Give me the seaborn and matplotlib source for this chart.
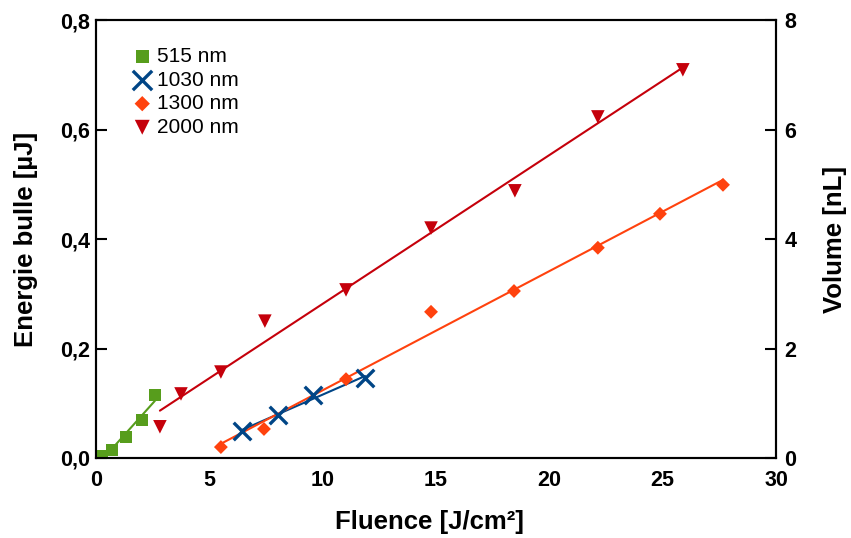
import numpy as np
import pandas as pd
import matplotlib
matplotlib.use("Agg")
import matplotlib.pyplot as plt
import seaborn as sns

# data
fluence_515 = [0.26, 0.71, 1.32, 2.03, 2.60]
energy_515 = [0.004, 0.015, 0.038, 0.069, 0.115]

fluence_1030 = [6.44, 8.03, 9.57, 11.87]
energy_1030 = [0.049, 0.079, 0.115, 0.146]

fluence_1300 = [5.51, 7.41, 11.03, 14.78, 18.44, 22.14, 24.88, 27.66]
energy_1300 = [0.020, 0.053, 0.144, 0.267, 0.305, 0.384, 0.446, 0.499]

fluence_2000 = [2.82, 3.75, 5.51, 7.45, 11.03, 14.78, 18.48, 22.14, 25.89]
energy_2000 = [0.057, 0.117, 0.157, 0.250, 0.307, 0.420, 0.488, 0.623, 0.709]

series = [
    ("515 nm", fluence_515, energy_515, "#579d1c", "s", 75),
    ("1030 nm", fluence_1030, energy_1030, "#004586", "x", 160),
    ("1300 nm", fluence_1300, energy_1300, "#ff420e", "D", 50),
    ("2000 nm", fluence_2000, energy_2000, "#c5000b", "v", 95),
]

sns.set_style("white")
plt.rcParams["font.family"] = ["Liberation Sans", "DejaVu Sans"]
plt.rcParams["text.color"] = "black"
plt.rcParams["axes.labelcolor"] = "black"
plt.rcParams["xtick.color"] = "black"
plt.rcParams["ytick.color"] = "black"

fig = plt.figure(figsize=(8.51, 5.38), dpi=100)
ax = fig.add_axes([0.1128, 0.1487, 0.7991, 0.8141])

for name, fx, ey, color, marker, size in series:
    df = pd.DataFrame({"Fluence": fx, "Energie": ey})
    # linear trend line over the measured range
    p = np.polyfit(df["Fluence"], df["Energie"], 1)
    fit = pd.DataFrame({"Fluence": [min(fx), max(fx)]})
    fit["Energie"] = np.polyval(p, fit["Fluence"])
    sns.lineplot(data=fit, x="Fluence", y="Energie", color=color, lw=1.5, ax=ax)
    if marker == "x":
        sns.scatterplot(data=df, x="Fluence", y="Energie", color=color, marker=marker,
                        s=size, linewidth=2.4, label=name, ax=ax, zorder=3)
    else:
        sns.scatterplot(data=df, x="Fluence", y="Energie", color=color, marker=marker,
                        s=size, edgecolor="none", label=name, ax=ax, zorder=3)

ax.set_xlim(0, 30)
ax.set_ylim(0, 0.8)
ax.set_xticks(range(0, 31, 5))
ax.set_yticks([0, 0.2, 0.4, 0.6, 0.8])
ax.set_yticklabels(["0,0", "0,2", "0,4", "0,6", "0,8"])
ax.tick_params(direction="in", length=8, width=1.5, labelsize=15.5, pad=4)
ax.tick_params(axis="x", pad=9)
for lab in ax.get_xticklabels() + ax.get_yticklabels():
    lab.set_fontweight("bold")
ax.set_xlabel("Fluence [J/cm²]", fontsize=18.5, fontweight="bold")
ax.xaxis.set_label_coords(0.491, -0.118)
ax.set_ylabel("Energie bulle [µJ]", fontsize=18.5, fontweight="bold", labelpad=16)
for sp in ax.spines.values():
    sp.set_color("black")
    sp.set_linewidth(1.5)

ax2 = ax.twinx()
ax2.set_ylim(0, 8)
ax2.set_yticks([0, 2, 4, 6, 8])
ax2.tick_params(direction="in", length=8, width=1.5, labelsize=15.5, pad=6)
for lab in ax2.get_yticklabels():
    lab.set_fontweight("bold")
ax2.set_ylabel("Volume [nL]", fontsize=18.5, fontweight="bold", labelpad=19)
for sp in ax2.spines.values():
    sp.set_color("black")
    sp.set_linewidth(1.5)

ax.legend(loc="upper left", bbox_to_anchor=(0.019, 0.967), frameon=False, fontsize=15,
          handletextpad=-0.3, labelspacing=0.22, borderaxespad=0.2, markerscale=1.1)

fig.savefig("out.png", dpi=100)
